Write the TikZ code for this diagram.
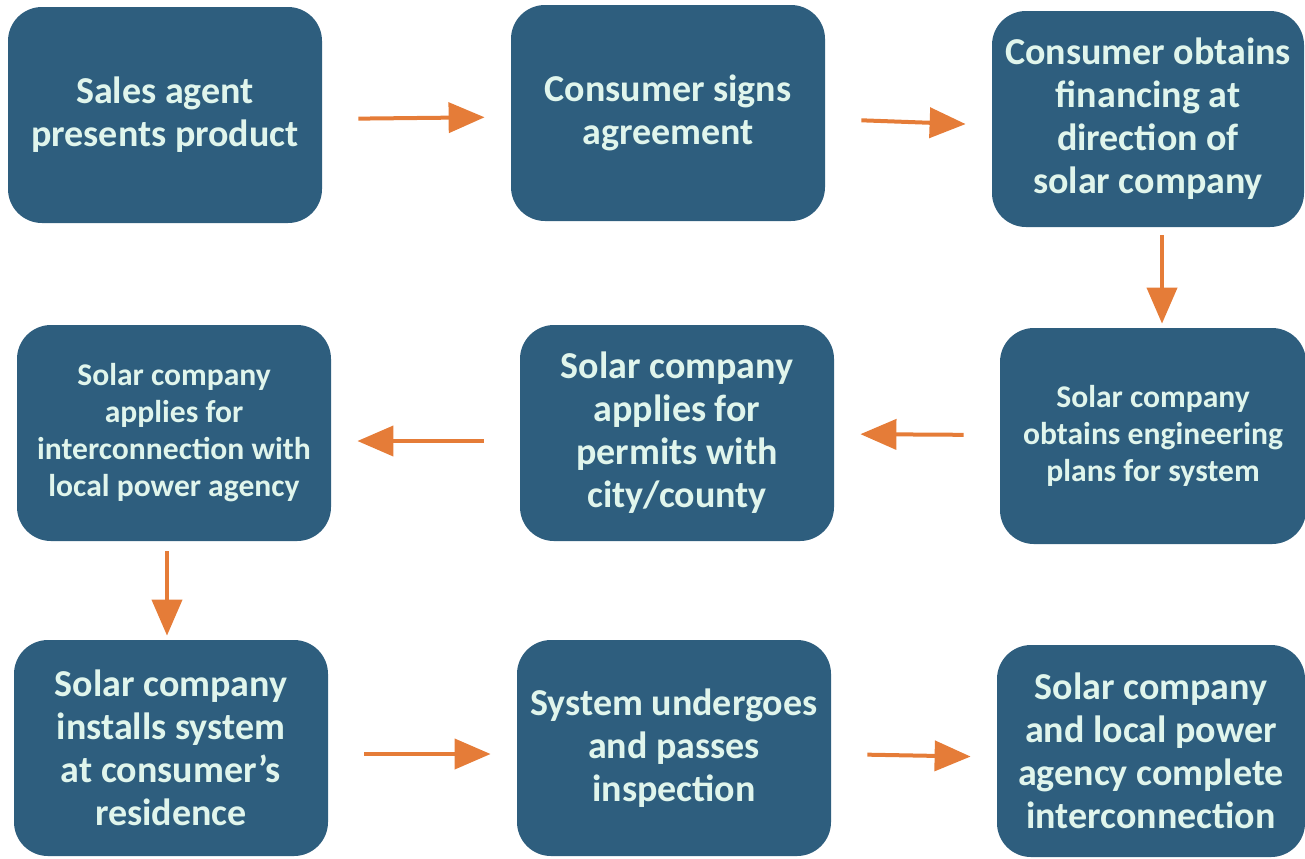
\documentclass[tikz,border=0pt]{standalone}
\usepackage{fontspec}
\setmainfont{Carlito}
\usetikzlibrary{arrows.meta}
\definecolor{boxblue}{RGB}{46,94,126}
\definecolor{boxtext}{RGB}{224,245,236}
\definecolor{arroworange}{RGB}{229,124,56}

\begin{document}
\begin{tikzpicture}[x=0.5pt, y=-0.5pt,
    stage/.style={rectangle, rounded corners=17pt, fill=boxblue, text=boxtext,
      minimum width=157pt, minimum height=108pt, align=center,
      font=\bfseries\fontsize{19}{21.5}\selectfont},
    smalltext/.style={font=\bfseries\fontsize{15.8}{18.5}\selectfont},
    flow/.style={draw=arroworange, line width=2pt,
      -{Triangle[width=15pt,length=18pt]}, shorten <=18pt, shorten >=13pt}]
	\useasboundingbox (0,0) rectangle (1305,858);

	% Top row
	\node[stage] (agent) at (165,115) {Sales agent\\presents product};
	\node[stage] (signs) at (668,113) {Consumer signs\\agreement};
	\node[stage, minimum width=156pt] (financing) at (1148,119)
		{Consumer obtains\\financing at\\direction of\\solar company};

	% Middle row
	\node[stage, smalltext] (interconnect) at (174,433)
		{Solar company\\applies for\\interconnection with\\local power agency};
	\node[stage] (permits) at (677,433)
		{Solar company\\applies for\\permits with\\city/county};
	\node[stage, smalltext, minimum width=153pt] (plans) at (1153,436)
		{Solar company\\obtains engineering\\plans for system};

	% Bottom row
	\node[stage] (installs) at (171,748)
		{Solar company\\installs system\\at consumer's\\residence};
	\node[stage] (inspection) at (674,748)
		{System undergoes\\and passes\\inspection};
	\node[stage, minimum width=154pt, minimum height=106pt] (complete) at (1151,751)
		{Solar company\\and local power\\agency complete\\interconnection};

	% Arrows
	\draw[flow] ([yshift=-2pt]agent.east) -- ([yshift=-2pt]signs.west);
	\draw[flow] ([yshift=-3pt]signs.east) -- ([yshift=-3pt]financing.west);
	\draw[flow, shorten <=4pt, shorten >=2pt] ([xshift=7pt]financing.south) -- ([xshift=4.5pt]plans.north);
	\draw[flow] (plans) -- (permits);
	\draw[flow] ([yshift=-4pt]permits.west) -- ([yshift=-4pt]interconnect.east);
	\draw[flow, shorten <=5pt, shorten >=2pt] ([xshift=-3.5pt]interconnect.south) -- ([xshift=-2pt]installs.north);
	\draw[flow] ([yshift=-3pt]installs.east) -- ([yshift=-3pt]inspection.west);
	\draw[flow] ([yshift=-3pt]inspection.east) -- ([yshift=-3pt]complete.west);
\end{tikzpicture}
\end{document}
